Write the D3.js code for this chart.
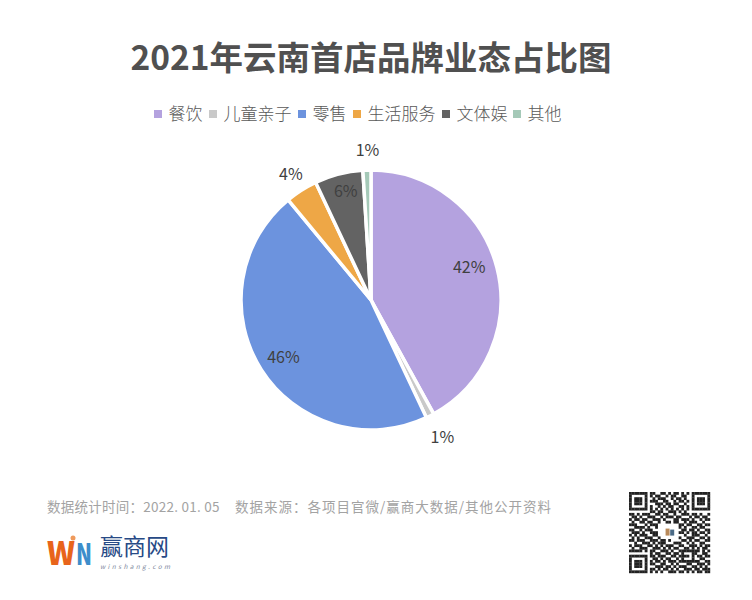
<!DOCTYPE html>
<html><head><meta charset="utf-8">
<script src="https://cdn.jsdelivr.net/npm/d3@7"></script>
<style>html,body{margin:0;background:#fff}svg{display:block}text{font-family:"Noto Sans CJK SC","Noto Sans",sans-serif}</style>
</head><body><div id="c"></div>
<script>
const categories=["餐饮","儿童亲子","零售","生活服务","文体娱","其他"];
const values=[42,1,46,4,6,1];
const colors=["#b4a2df","#c9c9c9","#6c93de","#eea746","#636363","#a5c9b8"];
const labelText=["42%","1%","46%","4%","6%","1%"];
const titleText="2021年云南首店品牌业态占比图";
const footDate="数据统计时间：2022. 01. 05";
const footSource="数据来源：各项目官微/赢商大数据/其他公开资料";
const qrRows=[
"1111111011001101011010101111111",
"1000001010110010110011001000001",
"1011101001011100101101001011101",
"1011101011100110010110101011101",
"1011101000111011011001001011101",
"1000001010010101100110101000001",
"1111111010101010101010101111111",
"0000000011011001110101000000000",
"1101011100110110010011101101001",
"0110100111001011101100010110110",
"1011011001110100011011101001011",
"0100110110010011011001011100100",
"1110001011100000000110110011011",
"0011110100100000000101001101100",
"1100101110000000000011011010011",
"0111010011100000000110101101101",
"1010111001100000000001001110010",
"0101001110010000000100111001101",
"1101110011101101000011010110011",
"0010011101011100011100101001100",
"1011100110101011100110011101011",
"0100111001110101011001101010110",
"1111101011001110100111111110101",
"0000000010110011011010001100110",
"1111111011011100110111101011011",
"1000001001101011001010001001100",
"1011101010110101110111111110011",
"1011101011001100101000110011101",
"1011101000111011010111001101010",
"1000001011010110101001110110111",
"1111111010101001110110101011011"];

const svg=d3.select("#c").append("svg").attr("width",752).attr("height",600);
svg.append("text").attr("x",371).attr("y",70).attr("text-anchor","middle")
  .attr("font-size",33.5).attr("font-weight",700).attr("fill","#505050").text(titleText);

// legend
const legendX=d3.scaleOrdinal().domain(categories).range([154,209,298,353,442,513]);
const lg=svg.append("g").selectAll("g").data(categories).join("g")
  .attr("transform",d=>`translate(${legendX(d)},114)`);
lg.append("rect").attr("x",0).attr("y",-4).attr("width",8).attr("height",8)
  .attr("fill",(d,i)=>colors[i]);
lg.append("text").attr("x",14.5).attr("y",6).attr("font-size",17).attr("font-weight",300)
  .attr("fill","#595959").text(d=>d);

// pie
const pie=d3.pie().sort(null).value(d=>d);
const arcs=pie(values);
const R=130;
const arc=d3.arc().innerRadius(0).outerRadius(R);
const g=svg.append("g").attr("transform","translate(371,300)");
g.selectAll("path").data(arcs).join("path").attr("d",arc)
  .attr("fill",(d,i)=>colors[i]).attr("stroke","#fff").attr("stroke-width",3.5);
// data labels: default spot per slice plus a small manual nudge
const insideArc=d3.arc().innerRadius(R*0.78).outerRadius(R*0.78);
const outsideArc=d3.arc().innerRadius(R+14).outerRadius(R+14);
const outsideIdx=new Set([1,3,5]);
const nudge=[[0,-7],[6,9],[-2,3],[-3,-4],[0,-10],[1,-6]];
g.selectAll("text").data(arcs).join("text")
  .attr("transform",(d,i)=>{
    const a=outsideIdx.has(i)?outsideArc:insideArc;
    const [x,y]=a.centroid(d);return `translate(${x+nudge[i][0]},${y+nudge[i][1]})`;})
  .attr("text-anchor","middle").attr("dy","0.35em")
  .attr("font-size",16).attr("fill","#404040").text((d,i)=>labelText[i]);

// footer
svg.append("text").attr("x",47).attr("y",512).attr("font-size",13.5).attr("letter-spacing",0.25)
  .attr("fill","#a3a3a3").style("white-space","pre").text(footDate);
svg.append("text").attr("x",235).attr("y",512).attr("font-size",13.5).attr("letter-spacing",1)
  .attr("fill","#a3a3a3").text(footSource);

// logo
const logo=svg.append("g");
logo.append("text").attr("x",47).attr("y",565).attr("font-size",32).attr("font-weight",900)
  .attr("fill","#e8641b").attr("textLength",28).attr("lengthAdjust","spacingAndGlyphs").text("W");
logo.append("text").attr("x",76).attr("y",565).attr("font-size",30).attr("font-weight",900)
  .attr("fill","#3d8ecb").attr("textLength",16).attr("lengthAdjust","spacingAndGlyphs").text("N");
logo.append("circle").attr("cx",73).attr("cy",538).attr("r",2.5).attr("fill","#ef9a5c");
logo.append("text").attr("x",100).attr("y",555).attr("font-size",23).attr("fill","#274a86").text("赢商网");
logo.append("text").attr("x",100).attr("y",569).attr("font-size",6.5).attr("font-style","italic")
  .attr("fill","#7f8aa0").attr("textLength",70).text("winshang.com");

// QR code
const n=qrRows.length, qs=d3.scaleBand().domain(d3.range(n)).range([0,81]);
const qr=svg.append("g").attr("transform","translate(629,492)");
qrRows.forEach((row,r)=>row.split("").forEach((c,k)=>{
  if(c==="1")qr.append("rect").attr("x",qs(k)).attr("y",qs(r))
    .attr("width",qs.bandwidth()+.2).attr("height",qs.bandwidth()+.2).attr("fill","#222");
}));
// small QR centre emblem
qr.append("rect").attr("x",qs(14)).attr("y",qs(14)).attr("width",4).attr("height",7).attr("fill","#b98a5a");
qr.append("rect").attr("x",qs(15)+2).attr("y",qs(14)+1).attr("width",4).attr("height",6).attr("fill","#4a6a86");
</script></body></html>
